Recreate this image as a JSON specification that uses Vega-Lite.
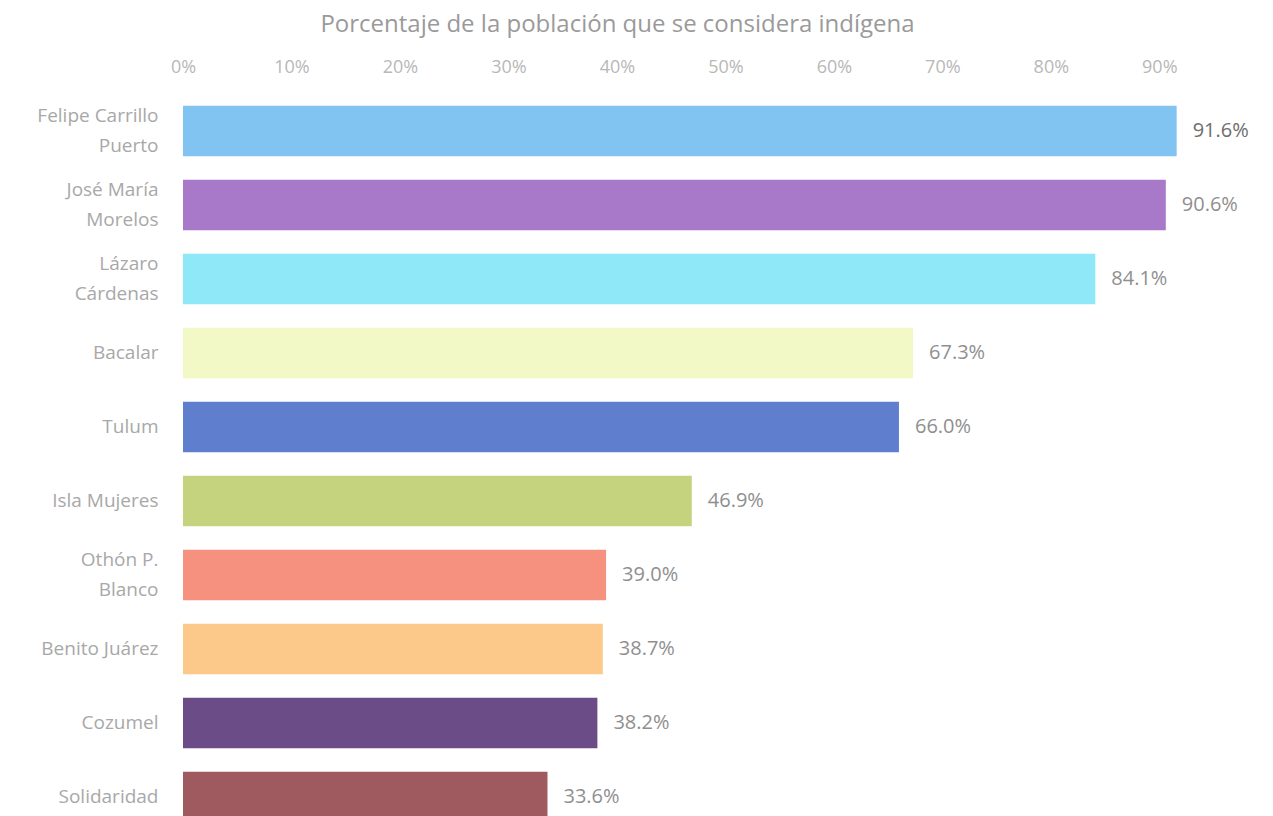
{
  "$schema": "https://vega.github.io/schema/vega-lite/v6.json",
  "autosize": "none",
  "width": 998,
  "height": 740,
  "padding": {"left": 183, "top": 94, "right": 92, "bottom": 0},
  "background": "white",
  "config": {"view": {"stroke": null}, "font": "Open Sans"},
  "data": {
    "values": [
      {"municipio": "Felipe Carrillo|Puerto", "valor": 0.916, "orden": 1, "color": "#82c4f1"},
      {"municipio": "José María|Morelos", "valor": 0.906, "orden": 2, "color": "#a979c9"},
      {"municipio": "Lázaro|Cárdenas", "valor": 0.841, "orden": 3, "color": "#8ee8f8"},
      {"municipio": "Bacalar", "valor": 0.673, "orden": 4, "color": "#f2f9c6"},
      {"municipio": "Tulum", "valor": 0.66, "orden": 5, "color": "#5f7fce"},
      {"municipio": "Isla Mujeres", "valor": 0.469, "orden": 6, "color": "#c5d27e"},
      {"municipio": "Othón P.|Blanco", "valor": 0.39, "orden": 7, "color": "#f6917f"},
      {"municipio": "Benito Juárez", "valor": 0.387, "orden": 8, "color": "#fcc98a"},
      {"municipio": "Cozumel", "valor": 0.382, "orden": 9, "color": "#6b4c86"},
      {"municipio": "Solidaridad", "valor": 0.336, "orden": 10, "color": "#9e5a5e"}
    ]
  },
  "encoding": {
    "y": {
      "field": "municipio",
      "type": "nominal",
      "sort": {"field": "orden", "order": "ascending"},
      "scale": {"paddingInner": 0.32, "paddingOuter": 0.16},
      "axis": {
        "title": null,
        "domain": false,
        "ticks": false,
        "labelPadding": 25,
        "labelFontSize": 19,
        "labelColor": "#a8a8a8",
        "labelLineHeight": 30,
        "labelExpr": "split(datum.value, '|')",
        "labelAlign": "right",
        "labelOffset": {"condition": {"test": "indexof(datum.value, '|') >= 0", "value": -15}, "value": 0}
      }
    },
    "x": {
      "field": "valor",
      "type": "quantitative",
      "scale": {"domain": [0, 0.92], "nice": false, "zero": true},
      "axis": {
        "orient": "top",
        "format": ".0%",
        "values": [0, 0.1, 0.2, 0.3, 0.4, 0.5, 0.6, 0.7, 0.8, 0.9],
        "domain": false,
        "ticks": false,
        "grid": false,
        "labelPadding": 18,
        "labelFontSize": 18,
        "labelColor": "#b8b8b8",
        "labelFlush": false,
        "title": "Porcentaje de la población que se considera indígena",
        "titleFontSize": 24,
        "titleFontWeight": "normal",
        "titleColor": "#9a9a9a",
        "titleX": 434,
        "titleY": -70,
        "titleAlign": "center",
        "titleBaseline": "middle"
      }
    }
  },
  "layer": [
    {
      "mark": {"type": "bar"},
      "encoding": {
        "color": {"field": "color", "type": "nominal", "scale": null}
      }
    },
    {
      "mark": {"type": "text", "align": "left", "baseline": "middle", "dx": 16, "fontSize": 20},
      "encoding": {
        "text": {"field": "valor", "type": "quantitative", "format": ".1%"},
        "fontWeight": {"condition": {"test": "datum.orden == 1", "value": "bold"}, "value": "normal"},
        "color": {"condition": {"test": "datum.orden == 1", "value": "#6e6e6e"}, "value": "#8f8f8f"}
      }
    }
  ]
}
